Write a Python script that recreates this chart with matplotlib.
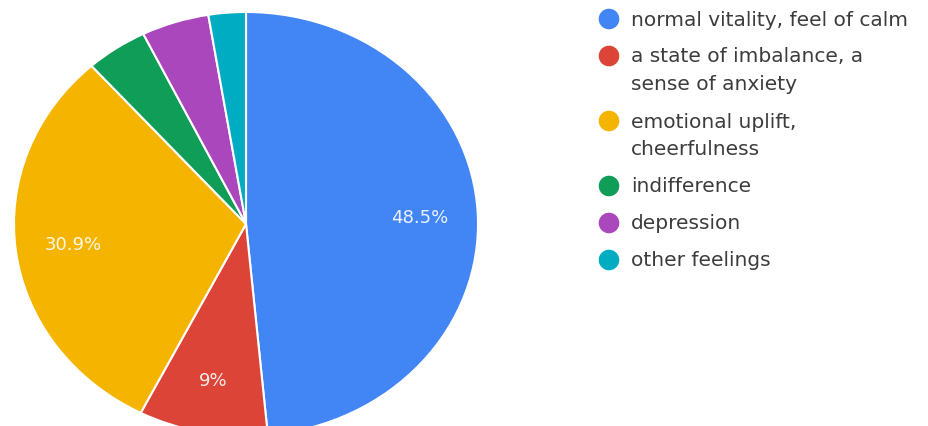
import matplotlib
matplotlib.use("Agg")
import matplotlib.pyplot as plt

plt.rcParams["font.family"] = ["DejaVu Sans"]

# datos del grafico
labels = ["normal vitality, feel of calm",
          "a state of imbalance, a\nsense of anxiety",
          "emotional uplift,\ncheerfulness",
          "indifference",
          "depression",
          "other feelings"]
values = [48.5, 9.0, 30.9, 4.3, 4.7, 2.6]
colors = ["#4285F4", "#DB4437", "#F4B400", "#0F9D58", "#AB47BC", "#00ACC1"]

W, H = 929, 427
fig = plt.figure(figsize=(W / 100, H / 100), dpi=100)

# pie un poco estirado en horizontal, como en la imagen original
cx, cy, rx, ry = 246, 225, 232, 212
ax = fig.add_axes([(cx - rx) / W, (H - cy - ry) / H, 2 * rx / W, 2 * ry / H])


def fmt(p):
    return "" if p < 5 else ("%g%%" % round(p, 1))


wedges, texts, autotexts = ax.pie(values, colors=colors, startangle=90, counterclock=False,
                                  autopct=fmt, pctdistance=0.75,
                                  wedgeprops=dict(edgecolor="white", linewidth=1.5),
                                  textprops=dict(color="white", fontsize=13))
ax.set_aspect("auto")
ax.set_xlim(-1, 1)
ax.set_ylim(-1, 1)
for t in autotexts:
    t.set_alpha(0.9)

# leyenda a mano (coordenadas en pixeles)
lg = fig.add_axes([0, 0, 1, 1])
lg.set_xlim(0, W)
lg.set_ylim(H, 0)
lg.axis("off")
y = 20
for lab, col in zip(labels, colors):
    lg.scatter([609], [y], s=220, color=col, edgecolors="none")
    for i, line in enumerate(lab.split("\n")):
        lg.text(631, y + i * 28, line, fontsize=14.5, color="#3c3c3c", va="center", ha="left")
    y += 37 + 28 * lab.count("\n")

fig.savefig("out.png", dpi=100, facecolor="white")
